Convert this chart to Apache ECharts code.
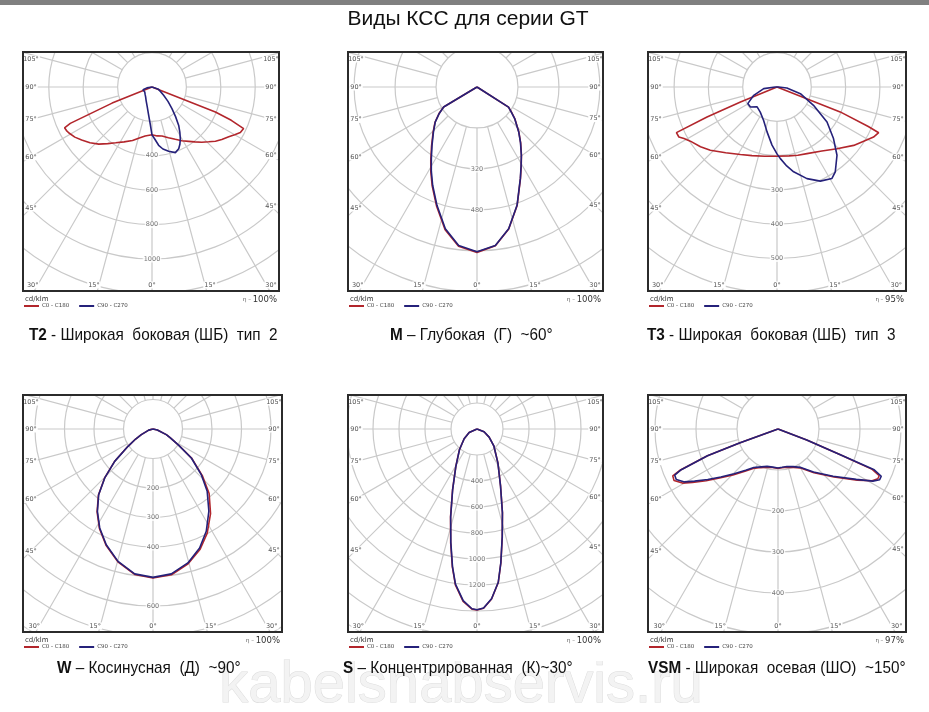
<!DOCTYPE html>
<html>
<head>
<meta charset="utf-8">
<script src="https://cdn.jsdelivr.net/npm/echarts@6/dist/echarts.min.js"></script>
<style>
  html, body { margin:0; padding:0; background:#ffffff; width:929px; height:712px; overflow:hidden; }
  #bg { position:absolute; left:0; top:0; width:929px; height:712px; }
  .panel { position:absolute; }
</style>
</head>
<body>
<div id="bg"></div>
<div id="p0" class="panel"></div>
<div id="p1" class="panel"></div>
<div id="p2" class="panel"></div>
<div id="p3" class="panel"></div>
<div id="p4" class="panel"></div>
<div id="p5" class="panel"></div>
<script>
// ================= DATA =================
// Each pair: [gamma (degrees from nadir), luminous intensity cd/klm]
// L = left half of the plane, R = right half of the plane

// T2
const T2_C0C180_L = [[0,278],[8,288],[14,305],[20,331],[27,358],[33,387],[38,418],[43,454],[48,485],[53,512],[57,535],[61,552],[63,558],[65,561],[66,520],[68,250],[90,0]];
const T2_C0C180_R = [[0,278],[6,286],[11.5,291],[18,310],[24,333],[29,357],[34,381],[38,405],[42,432],[46,458],[49.5,485],[53,508],[57,532],[60,555],[62.7,578],[65.6,585],[67.2,500],[68.5,396],[90,0]];
const T2_C90C270_L = [[0,278],[2.8,215],[7.9,155],[13.4,119],[23.4,86],[33,68],[44,58],[55.7,51],[65,52],[73,55],[80,30],[90,0]];
const T2_C90C270_R = [[0,278],[3,303],[6.5,341],[10,366],[14.5,386],[19.6,405],[23.4,391],[26,370],[28.7,343],[31.5,310],[34.8,272],[38.5,220],[42.7,171],[48,125],[54.5,83],[62.5,55],[70,40],[78.7,30],[90,0]];
const T2_RADIAL_LABELS = [400, 600, 800, 1000];

// M
const M_C0C180_L = [[0,646],[6.6,626],[12.6,571],[18.7,492],[24.3,425],[28.5,378],[32.5,336],[37.6,291],[44,247],[50,214],[55,181],[59,152],[90,0]];
const M_C0C180_R = [[0,646],[6.6,624],[12.6,568],[18.7,489],[25.3,397],[29,356],[33,319],[38,277],[42.8,241],[50,193],[54,166],[57.5,146],[90,0]];
const M_C90C270_L = [[0,644],[6.6,623],[12.6,567],[18.7,488],[24.3,421],[28.5,374],[32.5,332],[37.6,288],[44,245],[50,213],[55,180],[59,152],[90,0]];
const M_C90C270_R = [[0,644],[6.6,623],[12.6,567],[18.7,488],[25.3,396],[29,355],[33,318],[38,276],[42.8,240],[50,192],[54,165],[57.5,146],[90,0]];
const M_RADIAL_LABELS = [320, 480];

// T3
const T3_C0C180_L = [[0,202],[10,205],[20,213],[28.5,224],[38,243],[46.5,268],[52,283],[58,298],[61,310],[63,321],[65.6,322],[66.8,222],[67.8,115],[90,0]];
const T3_C0C180_R = [[0,202],[10,204],[17,208],[24.2,213],[35,228],[44.2,251],[52.7,281],[58,298],[62.6,317],[65.8,325],[66.6,290],[68.5,198],[90,0]];
const T3_C90C270_L = [[0,195],[4.9,170],[12.5,134],[21.8,105],[33.7,88],[45,82],[53,97],[60.4,98],[70.3,72],[82.9,39],[90,5]];
const T3_C90C270_R = [[0,195],[2.7,209],[7,232],[11.1,252],[18.1,281],[24.7,302],[31,311],[34.5,300],[41.3,265],[47.6,223],[55,178],[63.4,119],[74,71],[84,29],[90,5]];
const T3_RADIAL_LABELS = [300, 400, 500];

// W
const W_C0C180_L = [[0,505],[7.2,497],[14.8,466],[22,425],[28.3,383],[34,339],[39.6,290],[44.6,234],[49.8,171],[55.3,103],[60,68],[64,44],[75,15],[90,0]];
const W_C0C180_R = [[0,505],[7.2,498],[14.6,472],[21.4,438],[27.5,398],[34.2,347],[41,290],[46.6,230],[52.9,165],[58,101],[63,65],[67,49],[78,15],[90,0]];
const W_C90C270_L = [[0,503],[7.2,495],[14.8,464],[22,423],[28.3,381],[34,337],[39.6,289],[44.6,233],[49.8,170],[55.3,103],[60,68],[64,44],[75,15],[90,0]];
const W_C90C270_R = [[0,503],[7.2,495],[14.6,469],[21.4,433],[27.5,391],[34.2,337],[41,280],[46.6,225],[52.9,163],[58,100],[63,65],[67,49],[78,15],[90,0]];
const W_RADIAL_LABELS = [200, 300, 400, 600];

// S
const S_C0C180_L = [[0,1392],[1.6,1386],[4.6,1330],[7.9,1210],[10.1,1080],[13,900],[16.7,708],[21.8,507],[29.5,331],[40.5,208],[52.8,124],[66,66],[90,0]];
const S_C0C180_R = [[0,1392],[2.1,1380],[4.9,1312],[7.9,1192],[10.1,1047],[13.2,852],[16.9,674],[22.4,476],[31.5,309],[44.5,186],[56.3,112],[69,58],[90,0]];
const S_C90C270_L = [[0,1390],[1.6,1383],[4.6,1325],[7.9,1205],[10.1,1075],[13,895],[16.7,705],[21.8,505],[29.5,330],[40.5,207],[52.8,124],[66,66],[90,0]];
const S_C90C270_R = [[0,1390],[2.1,1378],[4.9,1310],[7.9,1190],[10.1,1045],[13.2,850],[16.9,672],[22.4,475],[31.5,308],[44.5,186],[56.3,112],[69,58],[90,0]];
const S_RADIAL_LABELS = [400, 600, 800, 1000, 1200];

// VSM
const VSM_C0C180_L = [[0,96],[8,95],[16.3,97],[24,103],[32.2,114],[38,131],[44.4,157],[50,186],[54.3,216],[58,246],[60.5,268],[63.6,283],[66,281],[67.2,258],[69.2,184],[70,100],[90,0]];
const VSM_C0C180_R = [[0,96],[6,95],[13.4,96],[22,101],[30,110],[39.5,138],[49.4,180],[57.2,230],[61.2,262],[63.5,272],[65.2,272],[66.8,250],[67.6,163],[69.2,75],[90,0]];
const VSM_C90C270_L = [[0,95],[8,94],[16.3,95],[24,101],[32.2,111],[38,128],[44.4,153],[50,182],[54.3,211],[58,240],[60.5,262],[63.6,277],[65.9,276],[67.2,256],[69.2,184],[70,100],[90,0]];
const VSM_C90C270_R = [[0,95],[6,94],[13.4,94],[22,99],[30,108],[39.5,136],[49.4,177],[57.2,227],[61.2,264],[63.5,277],[65.4,277],[67,255],[67.6,163],[69.2,75],[90,0]];
const VSM_RADIAL_LABELS = [200, 300, 400];

const ANGLE_LABELS = [0, 15, 30, 45, 60, 75, 90, 105];
const EFFICIENCY = ['100%', '100%', '95%', '100%', '100%', '97%'];
const TITLE = 'Виды КСС для серии GT';
const CAPTIONS = [
  ['T2', ' - Широкая  боковая (ШБ)  тип  2'],
  ['M', ' – Глубокая  (Г)  ~60°'],
  ['T3', ' - Широкая  боковая (ШБ)  тип  3'],
  ['W', ' – Косинусная  (Д)  ~90°'],
  ['S', ' – Концентрированная  (К)~30°'],
  ['VSM', ' - Широкая  осевая (ШО)  ~150°']
];
const LEGEND_NAMES = ['C0 - C180', 'C90 - C270'];

// ================= LAYOUT =================
const RED = '#b2262c', BLUE = '#25217a', GRID = '#c9c9c9';
const PANELS = [
  {el:'p0', left:22,  top:51,  w:258, h:241, cx:130, cy:36, k:0.172, step:200, vMax:1600,
   red:[T2_C0C180_L,T2_C0C180_R], blue:[T2_C90C270_L,T2_C90C270_R], labels:T2_RADIAL_LABELS},
  {el:'p1', left:347, top:51,  w:257, h:241, cx:130, cy:36, k:0.256, step:160, vMax:1120,
   red:[M_C0C180_L,M_C0C180_R], blue:[M_C90C270_L,M_C90C270_R], labels:M_RADIAL_LABELS},
  {el:'p2', left:647, top:51,  w:260, h:241, cx:130, cy:36, k:0.343, step:100, vMax:800,
   red:[T3_C0C180_L,T3_C0C180_R], blue:[T3_C90C270_L,T3_C90C270_R], labels:T3_RADIAL_LABELS},
  {el:'p3', left:22,  top:394, w:261, h:239, cx:131, cy:35, k:0.295, step:100, vMax:900,
   red:[W_C0C180_L,W_C0C180_R], blue:[W_C90C270_L,W_C90C270_R], labels:W_RADIAL_LABELS},
  {el:'p4', left:347, top:394, w:257, h:239, cx:130, cy:35, k:0.13, step:200, vMax:2000,
   red:[S_C0C180_L,S_C0C180_R], blue:[S_C90C270_L,S_C90C270_R], labels:S_RADIAL_LABELS},
  {el:'p5', left:647, top:394, w:260, h:239, cx:131, cy:35, k:0.41, step:100, vMax:700,
   red:[VSM_C0C180_L,VSM_C0C180_R], blue:[VSM_C90C270_L,VSM_C90C270_R], labels:VSM_RADIAL_LABELS}
];
const LEGEND_H = 28;

// polar data: [radius, angle]; angle 0 = nadir, left half clockwise to 90, right half as 360-gamma
function closedCurve(L, R) {
  const pts = [];
  for (let i = L.length - 1; i >= 0; i--) pts.push([L[i][1], L[i][0]]);
  for (let i = 0; i < R.length; i++) pts.push([R[i][1], 360 - R[i][0]]);
  pts.push(pts[0].slice());
  return pts;
}

function degreeLabels(p) {
  const out = [];
  const inX = 9, inY = 7;
  ANGLE_LABELS.forEach(g => {
    const sides = g === 0 ? [1] : [-1, 1];
    sides.forEach(s => {
      const rad = g * Math.PI / 180;
      const sx = Math.sin(rad), cyv = Math.cos(rad);
      let x, y, ySide = null;
      if (sx > 1e-6) {
        const dist = s < 0 ? (p.cx - inX) : (p.w - inX - p.cx);
        ySide = p.cy + dist / sx * cyv;
      }
      if (ySide !== null && ySide <= p.h - inY) {
        x = s < 0 ? inX : p.w - inX;
        y = Math.max(inY + 1, ySide);
      } else {
        const t = (p.h - inY - p.cy) / cyv;
        x = p.cx + s * (t * sx + (g ? 5 : 0));
        x = Math.min(Math.max(x, inX), p.w - inX);
        y = p.h - inY;
      }
      out.push({type:'text', x:x, y:y, z:50, silent:true,
        style:{text:g + '°', fontSize:6.5, fontFamily:'DejaVu Sans', fill:'#555',
               align:'center', verticalAlign:'middle', backgroundColor:'#fff', padding:[0,1]}});
    });
  });
  return out;
}

PANELS.forEach((p, idx) => {
  const dom = document.getElementById(p.el);
  dom.style.left = p.left + 'px';
  dom.style.top = p.top + 'px';
  dom.style.width = p.w + 'px';
  dom.style.height = (p.h + LEGEND_H) + 'px';
  const chart = echarts.init(dom, null, {renderer:'canvas'});
  const R = p.vMax * p.k;
  const rIn = p.step * p.k;
  const graphics = degreeLabels(p).concat([
    {type:'rect', z:100, silent:true, shape:{x:0, y:p.h, width:p.w, height:LEGEND_H}, style:{fill:'#fff'}},
    {type:'rect', z:120, silent:true, shape:{x:1, y:1, width:p.w - 2, height:p.h - 2},
     style:{fill:'none', stroke:'#2b2b2b', lineWidth:2}},
    {type:'text', z:130, x:3, y:p.h + 7, silent:true,
     style:{text:'cd/klm', fontSize:7, fontFamily:'DejaVu Sans', fill:'#333', align:'left', verticalAlign:'middle'}},
    {type:'text', z:130, x:p.w - 3, y:p.h + 8, silent:true,
     style:{text:'{e|η}{d| – }{v|' + EFFICIENCY[idx] + '}', align:'right', verticalAlign:'middle',
       rich:{e:{fontSize:5.5, fontFamily:'DejaVu Sans', fill:'#555'},
             d:{fontSize:5.5, fontFamily:'DejaVu Sans', fill:'#777'},
             v:{fontSize:8.5, fontFamily:'DejaVu Sans', fill:'#333'}}}}
  ]);
  const option = {
    animation:false,
    polar:[
      {center:[p.cx, p.cy], radius:[rIn, R]},
      {center:[p.cx, p.cy], radius:[0, R]}
    ],
    angleAxis:[
      {polarIndex:0, type:'value', min:0, max:360, interval:15, startAngle:270, clockwise:true,
       axisLine:{show:false}, axisTick:{show:false}, axisLabel:{show:false},
       splitLine:{show:true, lineStyle:{color:GRID, width:1.2}}},
      {polarIndex:1, type:'value', min:0, max:360, startAngle:270, clockwise:true, show:false}
    ],
    radiusAxis:[
      {polarIndex:0, type:'value', min:p.step, max:p.vMax, interval:p.step,
       axisLine:{show:false}, axisTick:{show:false}, axisLabel:{show:false},
       splitLine:{show:true, lineStyle:{color:GRID, width:1.2}}},
      {polarIndex:1, type:'value', min:0, max:p.vMax, show:false}
    ],
    legend:{
      data:LEGEND_NAMES, left:2, top:p.h + 11, padding:0, z:200, selectedMode:false,
      icon:'rect', itemWidth:15, itemHeight:2, itemGap:10,
      textStyle:{fontSize:5.5, fontFamily:'DejaVu Sans', color:'#444', padding:[0,0,0,-2]}
    },
    graphic:{elements:graphics},
    series:[
      {type:'scatter', coordinateSystem:'polar', polarIndex:1, silent:true, z:1,
       data:p.labels.map(v => [v, 0]), symbolSize:1, itemStyle:{color:'rgba(0,0,0,0)'},
       label:{show:true, position:'inside', formatter:d => String(d.value[0]),
              fontSize:6.5, fontFamily:'DejaVu Sans', color:'#555', backgroundColor:'#fff', padding:[0,1]}},
      {type:'line', name:LEGEND_NAMES[0], coordinateSystem:'polar', polarIndex:1, z:2,
       data:closedCurve(p.red[0], p.red[1]), showSymbol:false, symbol:'none', smooth:false,
       lineStyle:{color:RED, width:1.6}, itemStyle:{color:RED}},
      {type:'line', name:LEGEND_NAMES[1], coordinateSystem:'polar', polarIndex:1, z:3,
       data:closedCurve(p.blue[0], p.blue[1]), showSymbol:false, symbol:'none', smooth:false,
       lineStyle:{color:BLUE, width:1.6}, itemStyle:{color:BLUE}}
    ]
  };
  chart.setOption(option);
});

// ---- background: title, captions, watermark ----
(function () {
  const bg = echarts.init(document.getElementById('bg'), null, {renderer:'canvas'});
  const capPos = [[29,335],[390,335],[647,335],[57,668],[343,668],[648,668]];
  const elements = [
    {type:'rect', shape:{x:0, y:0, width:929, height:5}, style:{fill:'#808080'}, silent:true},
    {type:'text', x:461, y:686, z:0, silent:true,
     style:{text:'kabelsnabservis.ru', fontSize:58, fontFamily:'Liberation Sans', fill:'#f3f3f3',
            stroke:'#dcdcdc', lineWidth:1, align:'center', verticalAlign:'middle'}},
    {type:'text', x:468, y:19, z:5, silent:true,
     style:{text:TITLE, fontSize:21, fontFamily:'Liberation Sans', fill:'#111', align:'center', verticalAlign:'middle'}}
  ];
  CAPTIONS.forEach((c, i) => {
    elements.push({type:'text', x:capPos[i][0], y:capPos[i][1], z:5, silent:true, scaleX:0.9,
      style:{text:'{b|' + c[0] + '}{n|' + c[1] + '}', align:'left', verticalAlign:'middle',
        rich:{b:{fontSize:17, fontWeight:'bold', fontFamily:'Liberation Sans', fill:'#111'},
              n:{fontSize:17, fontFamily:'Liberation Sans', fill:'#111'}}}});
  });
  bg.setOption({animation:false, graphic:{elements:elements}});
})();
</script>
</body>
</html>
